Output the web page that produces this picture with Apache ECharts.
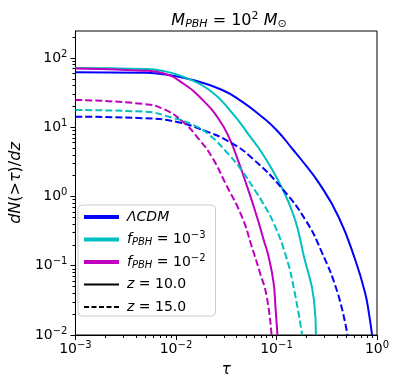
<!DOCTYPE html>
<html>
<head>
  <meta charset="utf-8">
  <title>dN/dz vs tau</title>
  <script src="https://cdn.jsdelivr.net/npm/echarts@6/dist/echarts.min.js"></script>
  <style>
    html, body { margin: 0; padding: 0; background: #fff; }
  </style>
</head>
<body>
<div id="main" style="width: 399px;height:386px;"></div>
<script type="text/javascript">
  // curves: [tau, dN(>tau)/dz]
  var lcdmZ10 = [[0.001, 62.1], [0.00474, 61.0], [0.00747, 58.2], [0.0147, 48.1], [0.0289, 34.5], [0.0454, 23.4],
    [0.0681, 15.0], [0.1, 9.12], [0.147, 4.69], [0.176, 3.42], [0.264, 1.57], [0.415, 0.506], [0.608, 0.121],
    [0.762, 0.0404], [0.836, 0.0195], [0.893, 0.01]];
  var lcdmZ15 = [[0.001, 14.2], [0.00474, 13.5], [0.01, 12.0], [0.0184, 9.12], [0.0338, 6.18], [0.0569, 3.60],
    [0.117, 1.24], [0.197, 0.443], [0.276, 0.169], [0.406, 0.0404], [0.508, 0.01]];
  var f3Z10 = [[0.001, 71.7], [0.00474, 69.4], [0.00747, 64.9], [0.0117, 53.7], [0.0215, 34.5], [0.0362, 16.1],
    [0.0569, 6.77], [0.0697, 4.54], [0.107, 1.57], [0.150, 0.506], [0.188, 0.134], [0.236, 0.032], [0.247, 0.01]];
  var f3Z15 = [[0.001, 17.7], [0.00474, 16.8], [0.00935, 13.6], [0.0147, 10.8], [0.0215, 7.73], [0.0338, 3.97],
    [0.0454, 2.34], [0.0608, 1.24], [0.0713, 0.861], [0.0936, 0.414], [0.125, 0.134], [0.150, 0.0447], [0.180, 0.01]];
  var f2Z10 = [[0.001, 70.5], [0.00474, 65.6], [0.00747, 60.1], [0.0117, 43.1], [0.0184, 24.8], [0.0270, 12.7],
    [0.0346, 6.54], [0.0406, 3.60], [0.0485, 1.73], [0.0622, 0.578], [0.0746, 0.236], [0.0836, 0.134],
    [0.0936, 0.0564], [0.0977, 0.0253], [0.1023, 0.01]];
  var f2Z15 = [[0.001, 24.8], [0.00474, 21.7], [0.00747, 18.4], [0.0117, 12.0], [0.0172, 6.54], [0.0231, 3.60],
    [0.0309, 1.57], [0.0454, 0.506], [0.0569, 0.187], [0.0681, 0.0813], [0.0798, 0.0366], [0.0893, 0.01]];

  var xMajor = [0.001, 0.01, 0.1, 1];
  var yMajor = [0.01, 0.1, 1, 10, 100];
  var xMinor = [0.002, 0.003, 0.004, 0.005, 0.006, 0.007, 0.008, 0.009,
    0.02, 0.03, 0.04, 0.05, 0.06, 0.07, 0.08, 0.09,
    0.2, 0.3, 0.4, 0.5, 0.6, 0.7, 0.8, 0.9];
  var yMinor = [0.02, 0.03, 0.04, 0.05, 0.06, 0.07, 0.08, 0.09,
    0.2, 0.3, 0.4, 0.5, 0.6, 0.7, 0.8, 0.9,
    2, 3, 4, 5, 6, 7, 8, 9,
    20, 30, 40, 50, 60, 70, 80, 90, 200];

  // empty sup/sub tokens keep every legend row the same height
  var legendText = {
    lcdm: '{i|ΛCDM}{sup| }{sub| }',
    f3: '{i|f}{sub|PBH}{r| = 10}{sup|−3}',
    f2: '{i|f}{sub|PBH}{r| = 10}{sup|−2}',
    z10: '{i|z}{r| = 10.0}{sup| }{sub| }',
    z15: '{i|z}{r| = 15.0}{sup| }{sub| }'
  };

  var BLUE = '#0000ff', CYAN = '#00bfbf', MAGENTA = '#bf00bf';
  var FONT = 'DejaVu Sans';

  var rich = {
    r: { fontFamily: FONT, fontSize: 14, color: '#000', lineHeight: 19 },
    i: { fontFamily: FONT, fontSize: 14, fontStyle: 'italic', color: '#000', lineHeight: 19 },
    sub: { fontFamily: FONT, fontSize: 10, fontStyle: 'italic', color: '#000', lineHeight: 10, padding: [6, 0, 0, 0] },
    sup: { fontFamily: FONT, fontSize: 10, color: '#000', lineHeight: 10, padding: [0, 0, 8, 0] }
  };

  function powLabel(v) {
    var e = Math.round(Math.log(v) / Math.LN10);
    return '{b|10}{s|' + (e < 0 ? '−' + (-e) : e) + '}';
  }
  var tickRich = {
    b: { fontFamily: FONT, fontSize: 14, color: '#000', lineHeight: 16 },
    s: { fontFamily: FONT, fontSize: 10, color: '#000', lineHeight: 10, padding: [0, 0, 8, 0] }
  };

  function curve(data, color, dashed) {
    return {
      type: 'line', data: data, showSymbol: false, symbol: 'none', smooth: 0.5,
      xAxisIndex: 0, yAxisIndex: 0, silent: true, clip: true,
      lineStyle: { color: color, width: 2, type: dashed ? [7, 3] : 'solid' }
    };
  }
  function legendItem(name, color, dashed) {
    return {
      type: 'line', name: name, data: [], symbol: 'circle', xAxisIndex: 0, yAxisIndex: 0,
      itemStyle: { color: color },
      lineStyle: { color: color, width: 2, type: dashed ? [5, 2.5] : 'solid' }
    };
  }
  function legendEntry(name, color, width, dashed) {
    return {
      name: name,
      itemStyle: { color: color, opacity: 0 },
      lineStyle: { color: color, width: width, type: dashed ? [5, 2.5] : 'solid' }
    };
  }

  var myChart = echarts.init(document.getElementById('main'));

  var option = {
    animation: false,
    title: {
      text: '{i|M}{sub|PBH}{r| = 10}{sup|2}{r| }{i|M}{sub|⊙}',
      left: 224, top: 5, textAlign: 'center',
      textStyle: {
        fontWeight: 'normal',
        rich: {
          r: { fontFamily: FONT, fontSize: 16, fontWeight: 'normal', color: '#000', lineHeight: 22 },
          i: { fontFamily: FONT, fontSize: 16, fontWeight: 'normal', fontStyle: 'italic', color: '#000', lineHeight: 22 },
          sub: { fontFamily: FONT, fontSize: 11, fontWeight: 'normal', fontStyle: 'italic', color: '#000', lineHeight: 11, padding: [7, 0, 0, 0] },
          sup: { fontFamily: FONT, fontSize: 11, fontWeight: 'normal', color: '#000', lineHeight: 11, padding: [0, 0, 9, 0] }
        }
      }
    },
    grid: { left: 71, right: 22, top: 31, bottom: 51, show: true, borderColor: '#000', borderWidth: 1, backgroundColor: 'transparent' },
    legend: {
      data: [
        legendEntry('lcdm', BLUE, 4, false),
        legendEntry('f3', CYAN, 4, false),
        legendEntry('f2', MAGENTA, 4, false),
        legendEntry('z10', '#000', 2, false),
        legendEntry('z15', '#000', 2, true)
      ],
      orient: 'vertical', left: 78, top: 205,
      itemWidth: 35, itemHeight: 19, itemGap: 4.5, selectedMode: false,
      padding: [3, 10, 0, 4],
      backgroundColor: 'rgba(255,255,255,0.8)', borderColor: '#cccccc', borderWidth: 1, borderRadius: 4,
      itemStyle: { opacity: 0 },
      formatter: function (n) { return legendText[n]; },
      textStyle: { rich: rich, padding: [0, 0, 0, 3] }
    },
    xAxis: [{
      type: 'log', logBase: 10, min: 0.001, max: 1, position: 'bottom',
      name: 'τ', nameLocation: 'middle', nameGap: 28,
      nameTextStyle: { fontFamily: FONT, fontSize: 15, fontStyle: 'italic', color: '#000' },
      axisLine: { show: true, onZero: false, lineStyle: { color: '#000', width: 1 } },
      axisTick: { show: true, length: 5, customValues: xMajor, lineStyle: { color: '#000' } },
      axisLabel: { customValues: xMajor, margin: 6, formatter: powLabel, rich: tickRich },
      splitLine: { show: false }
    }, {
      type: 'log', logBase: 10, min: 0.001, max: 1, position: 'bottom', gridIndex: 0,
      axisLine: { show: false },
      axisTick: { show: true, length: 3, customValues: xMinor, lineStyle: { color: '#000' } },
      axisLabel: { show: false },
      splitLine: { show: false }
    }],
    yAxis: [{
      type: 'log', logBase: 10, min: 0.01, max: 245, position: 'left',
      name: '{i|dN}{r|(>}{i|τ}{r|)/}{i|dz}', nameLocation: 'middle', nameGap: 49, nameRotate: 90,
      nameTextStyle: {
        rich: {
          r: { fontFamily: FONT, fontSize: 16, color: '#000' },
          i: { fontFamily: FONT, fontSize: 16, fontStyle: 'italic', color: '#000' }
        }
      },
      axisLine: { show: true, onZero: false, lineStyle: { color: '#000', width: 1 } },
      axisTick: { show: true, length: 5, customValues: yMajor, lineStyle: { color: '#000' } },
      axisLabel: { customValues: yMajor, margin: 8, formatter: powLabel, rich: tickRich },
      splitLine: { show: false }
    }, {
      type: 'log', logBase: 10, min: 0.01, max: 245, position: 'left', gridIndex: 0,
      axisLine: { show: false },
      axisTick: { show: true, length: 3, customValues: yMinor, lineStyle: { color: '#000' } },
      axisLabel: { show: false },
      splitLine: { show: false }
    }],
    series: [
      curve(lcdmZ10, BLUE, false),
      curve(f3Z10, CYAN, false),
      curve(f2Z10, MAGENTA, false),
      curve(lcdmZ15, BLUE, true),
      curve(f3Z15, CYAN, true),
      curve(f2Z15, MAGENTA, true),
      legendItem('lcdm', BLUE, false),
      legendItem('f3', CYAN, false),
      legendItem('f2', MAGENTA, false),
      legendItem('z10', '#000', false),
      legendItem('z15', '#000', true)
    ]
  };

  myChart.setOption(option);
</script>
</body>
</html>
